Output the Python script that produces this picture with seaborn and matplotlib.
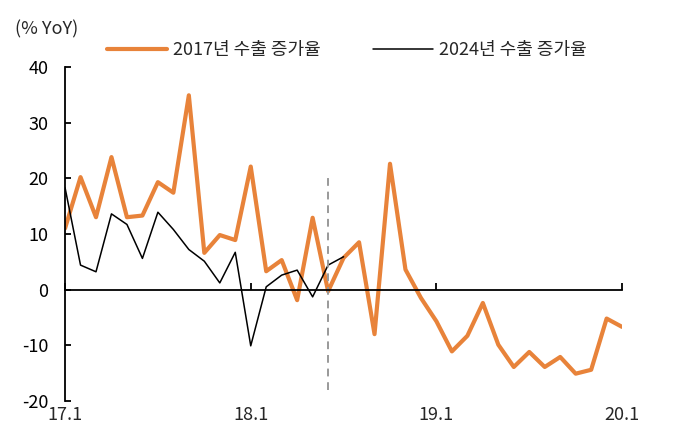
import numpy as np
import pandas as pd
import matplotlib
matplotlib.use("Agg")
import matplotlib.pyplot as plt
import seaborn as sns

# 월 라벨 (17.1 ~ 20.1)
months = [f"{17 + i // 12}.{i % 12 + 1}" for i in range(37)]
tick_labels = ["17.1", "18.1", "19.1", "20.1"]

# 2017년 수출 증가율 (% YoY)
exp_2017 = [11.0, 20.2, 13.0, 23.8, 13.0, 13.3, 19.3, 17.4, 34.9, 6.6,
            9.8, 8.9, 22.1, 3.3, 5.3, -1.9, 12.9, -0.3, 5.7, 8.5,
            -8.0, 22.6, 3.6, -1.5, -5.7, -11.1, -8.3, -2.4, -9.9, -13.9,
            -11.2, -13.9, -12.1, -15.1, -14.4, -5.2, -6.7]

# 2024년 수출 증가율 (% YoY)
exp_2024 = [18.3, 4.4, 3.2, 13.6, 11.7, 5.6, 13.9, 10.8, 7.2, 5.1,
            1.2, 6.7, -10.1, 0.5, 2.6, 3.5, -1.3, 4.4, 5.9]

marker_month = 17  # 점선 위치

label_2017 = "2017년 수출 증가율"
label_2024 = "2024년 수출 증가율"

df = pd.DataFrame({
    "idx": list(range(len(exp_2017))) + list(range(len(exp_2024))),
    "value": exp_2017 + exp_2024,
    "series": [label_2017] * len(exp_2017) + [label_2024] * len(exp_2024),
})

sns.set_style("white")
plt.rcParams["font.family"] = ["Noto Sans CJK KR", "DejaVu Sans"]
plt.rcParams["axes.unicode_minus"] = False

fig = plt.figure(figsize=(6.92, 4.46), dpi=100)
ax = fig.add_axes([0.094, 0.101, 0.805, 0.749])

sns.lineplot(data=df, x="idx", y="value", hue="series", style="series",
             palette={label_2017: "#E8833A", label_2024: "#000000"},
             dashes=False, size="series",
             sizes={label_2017: 3.0, label_2024: 1.1},
             ax=ax, legend=False)

ax.plot([marker_month, marker_month], [-18, 21], color="#999999",
        lw=1.4, ls=(0, (4, 3)))

ax.set_xlim(0, 36)
ax.set_ylim(-20, 40)
ax.set_yticks([-20, -10, 0, 10, 20, 30, 40])
ax.tick_params(axis="y", left=True, direction="in", length=4, width=1.3,
               labelsize=13, pad=12, colors="#000000")
ax.set_xticks([0, 12, 24, 36])
ax.set_xticklabels([])
ax.tick_params(axis="x", bottom=True, direction="in", length=5, width=1.3,
               colors="#000000")
for xi, lab in zip([0, 12, 24, 36], tick_labels):
    ax.text(xi, -22.5, lab, ha="center", va="center", fontsize=13)

for s in ["top", "right"]:
    ax.spines[s].set_visible(False)
ax.spines["bottom"].set_position(("data", 0))
ax.spines["left"].set_linewidth(1.3)
ax.spines["bottom"].set_linewidth(1.3)
ax.spines["left"].set_color("#000000")
ax.spines["bottom"].set_color("#000000")
ax.set_xlabel("")
ax.set_ylabel("")

fig.text(0.021, 0.933, "(% YoY)", fontsize=13, va="center", ha="left")

handles = [plt.Line2D([], [], color="#E8833A", lw=3.0),
           plt.Line2D([], [], color="#000000", lw=1.1)]
fig.legend(handles, [label_2017, label_2024], loc="center left",
           bbox_to_anchor=(0.155, 0.888), ncol=2, frameon=False,
           fontsize=13, handlelength=3.3, handletextpad=0.35,
           columnspacing=2.9, borderpad=0, borderaxespad=0)

fig.savefig("out.png", dpi=100)
